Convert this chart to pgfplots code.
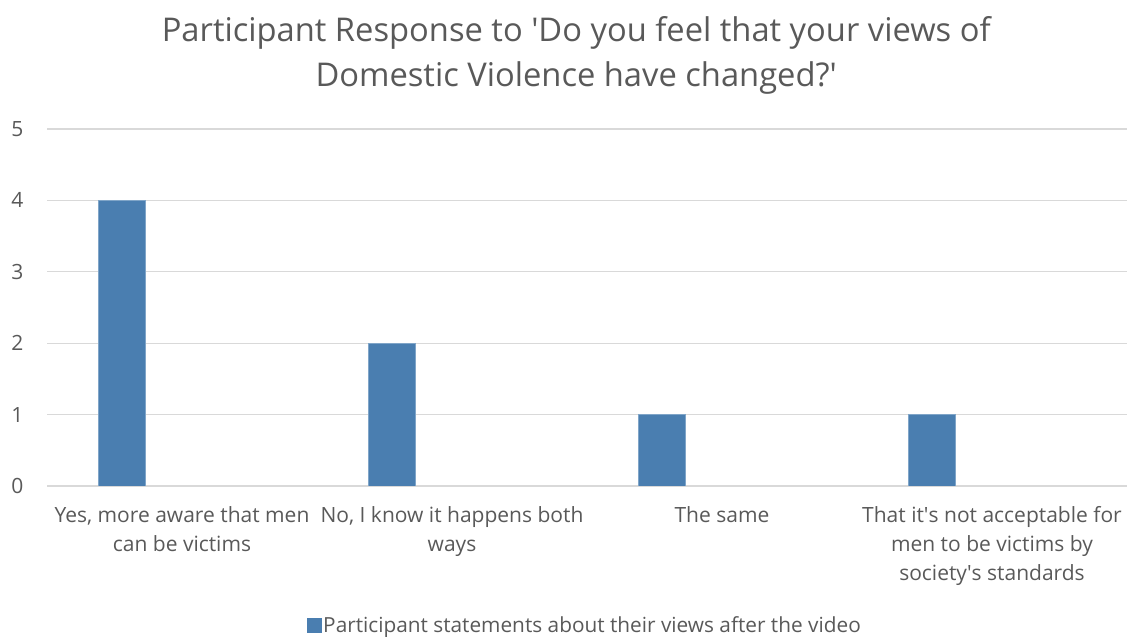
\documentclass[border=0pt]{standalone}
\usepackage{fontspec}
\setmainfont{Open Sans}
\usepackage{pgfplots}
\pgfplotsset{compat=1.18}
\definecolor{txt}{HTML}{595959}
\definecolor{gridc}{HTML}{D9D9D9}
\definecolor{barc}{HTML}{4A7EB0}
\newcommand{\q}{\textquotesingle}
\begin{document}
\begin{tikzpicture}
\useasboundingbox (0,0) rectangle (1127bp,639bp);
\begin{axis}[
  at={(47bp,153bp)}, anchor=south west,
  scale only axis, width=1080bp, height=357bp,
  xmin=-0.5, xmax=3.5, ymin=0, ymax=5,
  ybar, bar width=47bp,
  axis line style={draw=none},
  ymajorgrids, xmajorgrids=false, grid style={draw=gridc, line width=1.3bp},
  major tick length=0pt,
  ytick={0,1,2,3,4,5},
  xtick={0,1,2,3},
  xticklabels={{Yes, more aware that men\\can be victims},{No, I know it happens both\\ways},{The same},{That it\q s not acceptable for\\men to be victims by\\society\q s standards}},
  xticklabel style={font=\fontsize{21bp}{29bp}\selectfont, text=txt, align=center, anchor=north, yshift=-17bp},
  yticklabel style={font=\fontsize{21bp}{24bp}\selectfont, text=txt, anchor=east, xshift=-20bp},
  /pgf/number format/assume math mode=true,
  title={Participant Response to \q Do you feel that your views of\\Domestic Violence have changed?\q},
  title style={font=\fontsize{32.7bp}{45bp}\selectfont, text=txt, align=center, at={(0.490,1.189)}, anchor=center},
  legend style={at={(0.498,-0.389)}, anchor=center, draw=none, fill=none, font=\fontsize{20.8bp}{24bp}\selectfont, text=txt, inner sep=0pt},
  legend image code/.code={\fill[barc] (0bp,-7bp) rectangle (14bp,7bp);},
]
\addplot[fill=barc, draw=barc!70!white, bar shift=0pt] coordinates {(-0.224,4) (0.776,2) (1.776,1) (2.776,1)};
\addlegendentry{Participant statements about their views after the video}
\end{axis}
\end{tikzpicture}
\end{document}
